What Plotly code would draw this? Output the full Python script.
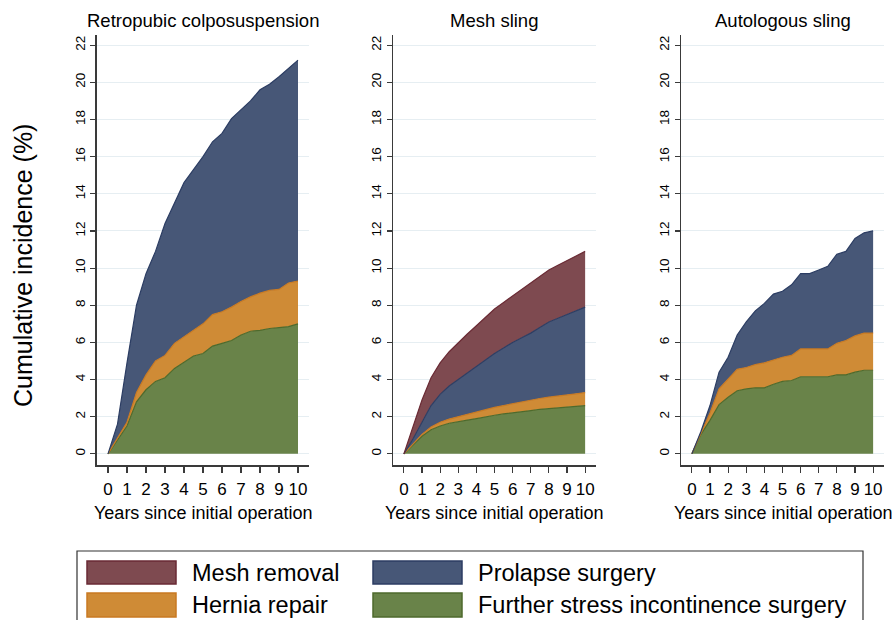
import plotly.graph_objects as go

# ---------------- data ----------------
years = [0, 0.5, 1, 1.5, 2, 2.5, 3, 3.5, 4, 4.5, 5, 5.5, 6, 6.5, 7, 7.5, 8, 8.5, 9, 9.5, 10]

panel_titles = ["Retropubic colposuspension", "Mesh sling", "Autologous sling"]
series_names = ["Mesh removal", "Prolapse surgery", "Hernia repair", "Further stress incontinence surgery"]

# Cumulative incidence (%) of each event (stacked, bottom to top: further SI, hernia, prolapse, mesh removal)
retro_further = [0, 0.75, 1.5, 2.8, 3.45, 3.9, 4.1, 4.6, 4.95, 5.27, 5.4, 5.8, 5.95, 6.1, 6.4, 6.6, 6.65, 6.75, 6.8, 6.85, 7.0]
retro_hernia = [0, 0.1, 0.2, 0.5, 0.8, 1.1, 1.2, 1.35, 1.35, 1.38, 1.6, 1.7, 1.7, 1.8, 1.8, 1.85, 2.0, 2.05, 2.05, 2.35, 2.3]
retro_prolapse = [0, 0.75, 3.2, 4.7, 5.45, 5.9, 7.1, 7.55, 8.3, 8.65, 9.0, 9.3, 9.6, 10.15, 10.3, 10.55, 10.95, 11.1, 11.45, 11.55, 11.9]
retro_mesh = [0] * 21

mesh_further = [0, 0.5, 0.95, 1.3, 1.5, 1.65, 1.75, 1.82, 1.9, 2.0, 2.08, 2.15, 2.2, 2.27, 2.33, 2.4, 2.45, 2.48, 2.52, 2.56, 2.6]
mesh_hernia = [0, 0.05, 0.1, 0.15, 0.2, 0.22, 0.25, 0.3, 0.35, 0.37, 0.42, 0.45, 0.5, 0.53, 0.57, 0.58, 0.6, 0.62, 0.65, 0.67, 0.7]
mesh_prolapse = [0, 0.25, 0.65, 1.15, 1.5, 1.78, 2.0, 2.23, 2.45, 2.68, 2.9, 3.1, 3.3, 3.45, 3.6, 3.82, 4.05, 4.2, 4.33, 4.47, 4.6]
mesh_mesh = [0, 0.7, 1.2, 1.5, 1.7, 1.85, 2.0, 2.1, 2.2, 2.3, 2.4, 2.45, 2.5, 2.6, 2.7, 2.75, 2.8, 2.85, 2.9, 2.95, 3.0]

auto_further = [0, 1.05, 1.8, 2.65, 3.05, 3.4, 3.5, 3.55, 3.55, 3.75, 3.9, 3.95, 4.15, 4.15, 4.15, 4.15, 4.25, 4.25, 4.4, 4.5, 4.5]
auto_hernia = [0, 0.05, 0.4, 0.85, 0.95, 1.15, 1.15, 1.25, 1.35, 1.3, 1.3, 1.35, 1.5, 1.5, 1.5, 1.5, 1.7, 1.85, 1.95, 2.0, 2.0]
auto_prolapse = [0, 0.1, 0.4, 0.9, 1.2, 1.85, 2.45, 2.9, 3.2, 3.55, 3.55, 3.8, 4.05, 4.05, 4.25, 4.45, 4.8, 4.8, 5.25, 5.4, 5.5]
auto_mesh = [0] * 21

y_ticks = [0, 2, 4, 6, 8, 10, 12, 14, 16, 18, 20, 22]
x_ticks = [0, 1, 2, 3, 4, 5, 6, 7, 8, 9, 10]

# ---------------- style ----------------
FONT = "Liberation Sans, Arial, Helvetica, sans-serif"
fill_colors = {
    "Mesh removal": "#7E4A50",
    "Prolapse surgery": "#475777",
    "Hernia repair": "#CF8B36",
    "Further stress incontinence surgery": "#698349",
}
line_colors = {
    "Mesh removal": "#6A2A34",
    "Prolapse surgery": "#2C3D63",
    "Hernia repair": "#C97A22",
    "Further stress incontinence surgery": "#4E6A2C",
}

W, H = 892, 620
panels = [
    (retro_further, retro_hernia, retro_prolapse, retro_mesh),
    (mesh_further, mesh_hernia, mesh_prolapse, mesh_mesh),
    (auto_further, auto_hernia, auto_prolapse, auto_mesh),
]
x_domains_px = [(96.6, 309.4), (393, 596), (681, 884)]
y_domain_px = (35, 465)  # top, bottom

fig = go.Figure()

for i, (further, hernia, prolapse, mesh) in enumerate(panels):
    xa = "x" if i == 0 else f"x{i+1}"
    ya = "y" if i == 0 else f"y{i+1}"
    stack = [
        ("Further stress incontinence surgery", further),
        ("Hernia repair", hernia),
        ("Prolapse surgery", prolapse),
    ]
    if any(v > 0 for v in mesh):
        stack.append(("Mesh removal", mesh))
    for name, vals in stack:
        fig.add_trace(go.Scatter(
            x=years, y=vals, name=name, xaxis=xa, yaxis=ya,
            mode="lines", stackgroup=f"p{i}",
            line=dict(color=line_colors[name], width=1.2),
            fillcolor=fill_colors[name], showlegend=False,
            hoverinfo="skip",
        ))

axis_color = "#3a3a3a"
layout = dict(
    width=W, height=H,
    margin=dict(l=0, r=0, t=0, b=0),
    paper_bgcolor="white", plot_bgcolor="white",
    font=dict(family=FONT, color="black"),
    showlegend=False,
)
ydom = [(H - y_domain_px[1]) / H, (H - y_domain_px[0]) / H]
for i, (x0, x1) in enumerate(x_domains_px):
    sx = "" if i == 0 else str(i + 1)
    layout[f"xaxis{sx}"] = dict(
        domain=[x0 / W, x1 / W], range=[-0.6, 10.6], anchor=f"y{sx}",
        tickvals=x_ticks, ticks="outside", ticklen=6, tickwidth=1.2, tickcolor=axis_color,
        showline=True, linecolor=axis_color, linewidth=1.5, showgrid=False, zeroline=False,
        ticklabelstandoff=2,
        tickfont=dict(size=17, family=FONT, color="black"),
    )
    layout[f"yaxis{sx}"] = dict(
        domain=ydom, range=[-0.6, 22.55], anchor=f"x{sx}",
        tickvals=y_ticks, ticks="outside", ticklen=5, tickwidth=1.2, tickcolor=axis_color,
        showline=True, linecolor=axis_color, linewidth=1.5,
        showgrid=True, gridcolor="#E6EEF2", gridwidth=1, zeroline=False,
        tickangle=-90, tickfont=dict(size=13.5, family=FONT, color="black"),
    )
fig.update_layout(**layout)

annotations = []
for i, (x0, x1) in enumerate(x_domains_px):
    xc = (x0 + x1) / 2 / W
    annotations.append(dict(text=panel_titles[i], x=xc, y=(H - 21) / H, xref="paper", yref="paper",
                            showarrow=False, xanchor="center", yanchor="middle",
                            font=dict(size=18.5, family=FONT, color="black")))
    annotations.append(dict(text="Years since initial operation", x=xc, y=(H - 513) / H,
                            xref="paper", yref="paper", showarrow=False,
                            xanchor="center", yanchor="middle",
                            font=dict(size=18, family=FONT, color="black")))
annotations.append(dict(text="Cumulative incidence (%)", x=23 / W, y=(H - 266) / H,
                        xref="paper", yref="paper", showarrow=False, textangle=-90,
                        xanchor="center", yanchor="middle",
                        font=dict(size=25, family=FONT, color="black")))

# legend (drawn manually: wide colour swatches in a framed box, 2 columns)
shapes = [dict(type="rect", xref="paper", yref="paper",
               x0=77 / W, x1=863 / W, y0=-0.05, y1=(H - 551) / H,
               line=dict(color="#333333", width=1.2), fillcolor="rgba(0,0,0,0)")]
legend_order = ["Mesh removal", "Prolapse surgery", "Hernia repair", "Further stress incontinence surgery"]
col_px = [(87, 176, 190), (373, 462, 476)]
row_px = [(561, 584), (593, 617)]
for k, name in enumerate(legend_order):
    c, r = k % 2, k // 2
    sx0, sx1, tx = col_px[c]
    sy0, sy1 = row_px[r]
    shapes.append(dict(type="rect", xref="paper", yref="paper",
                       x0=sx0 / W, x1=sx1 / W, y0=(H - sy1) / H, y1=(H - sy0) / H,
                       line=dict(color=line_colors[name], width=1.5), fillcolor=fill_colors[name]))
    annotations.append(dict(text=name, x=tx / W, y=(H - (sy0 + sy1) / 2) / H,
                            xref="paper", yref="paper", showarrow=False,
                            xanchor="left", yanchor="middle",
                            font=dict(size=23.5, family=FONT, color="black")))

fig.update_layout(annotations=annotations, shapes=shapes)
fig.write_html("out.html", config={"displayModeBar": False, "staticPlot": True},
               post_script="document.body.style.margin='0';document.body.style.overflow='hidden';")
